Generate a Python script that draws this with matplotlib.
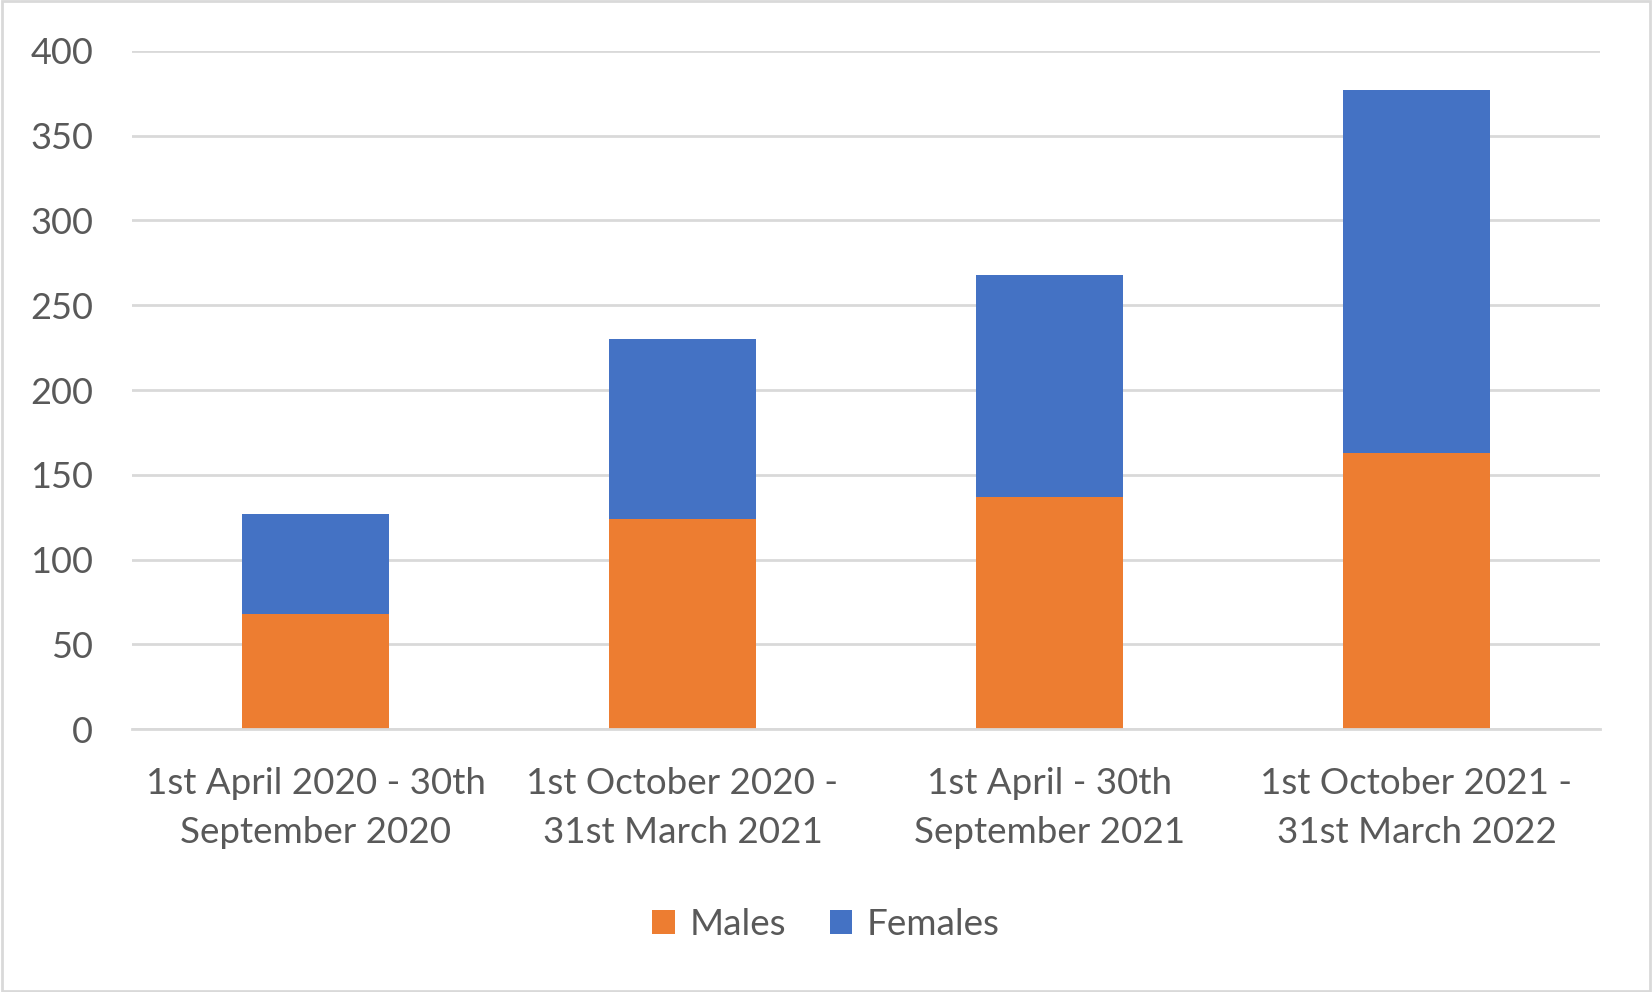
import matplotlib.pyplot as plt
import numpy as np

# data
periods = ["1st April 2020 - 30th\nSeptember 2020",
           "1st October 2020 -\n31st March 2021",
           "1st April - 30th\nSeptember 2021",
           "1st October 2021 -\n31st March 2022"]
males = [68, 124, 137, 163]
females = [59, 106, 131, 214]
yticks = [0, 50, 100, 150, 200, 250, 300, 350, 400]

plt.rcParams['font.family'] = ['Lato', 'DejaVu Sans']
text_color = "#595959"
grid_color = "#d9d9d9"

fig = plt.figure(figsize=(16.52, 9.92), dpi=100)
ax = fig.add_axes([0.0799, 0.2651, 0.8886, 0.6835])

x = np.arange(len(periods))
ax.bar(x, males, width=0.4, color="#ED7D31", label="Males", zorder=3)
ax.bar(x, females, width=0.4, bottom=males, color="#4472C4", label="Females", zorder=3)

ax.set_xlim(-0.5, len(periods) - 0.5)
ax.set_ylim(0, 400)
ax.set_yticks(yticks)
ax.set_xticks(x)
ax.set_xticklabels(periods, fontsize=26.5, color=text_color, linespacing=1.6)
ax.tick_params(axis='y', labelsize=26, labelcolor=text_color, length=0, pad=28)
ax.tick_params(axis='x', length=0, pad=27)
ax.grid(axis='y', color=grid_color, linewidth=2, zorder=0)

for s in ["top", "right", "left"]:
    ax.spines[s].set_visible(False)
ax.spines["bottom"].set_color(grid_color)
ax.spines["bottom"].set_linewidth(2)
ax.spines["bottom"].set_zorder(4)

fig.legend(loc="center", bbox_to_anchor=(0.5, 0.068), ncol=2, frameon=False,
           fontsize=26.5, labelcolor=text_color, handlelength=0.6, handleheight=0.6,
           handletextpad=0.4, columnspacing=1.2)

# light gray frame around the chart
fig.patches.append(plt.Rectangle((0.001, 0.001), 0.998, 0.998, transform=fig.transFigure,
                                 fill=False, edgecolor="#d9d9d9", linewidth=2))

fig.savefig("out.png", dpi=100, facecolor="white")
